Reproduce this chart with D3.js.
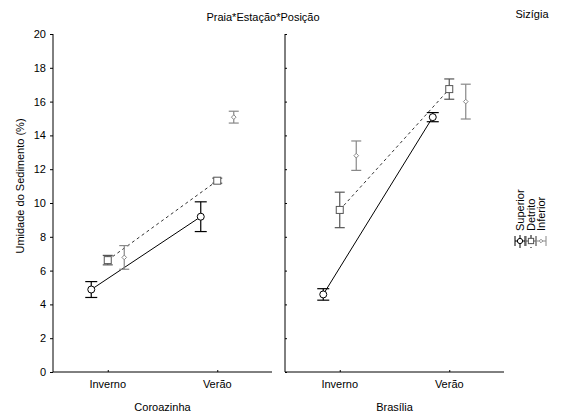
<!DOCTYPE html>
<html>
<head>
<meta charset="utf-8">
<script src="https://cdn.jsdelivr.net/npm/d3@7"></script>
<style>
  body { margin: 0; background: #fff; }
  text { font-family: "Liberation Sans", Arial, sans-serif; fill: #000; }
</style>
</head>
<body>
<div class="viz"></div>
<script>
// data
const beaches = ['Coroazinha', 'Brasília'];
const seasons = ['Inverno', 'Verão'];
const positions = ['Superior', 'Detrito', 'Inferior'];
const yTicks = [0, 2, 4, 6, 8, 10, 12, 14, 16, 18, 20];

// mean per beach, per position: [Inverno, Verão]
const superiorMean = [[4.88, 9.19], [4.59, 15.08]];
const superiorErr = [[0.47, 0.88], [0.34, 0.27]];
const detritoMean = [[6.62, 11.32], [9.59, 16.74]];
const detritoErr = [[0.28, 0.15], [1.05, 0.6]];
const inferiorMean = [[6.78, 15.08], [12.8, 16.0]];
const inferiorErr = [[0.7, 0.35], [0.87, 1.03]];

const series = [
  { name: positions[0], mean: superiorMean, err: superiorErr, color: '#000', off: -16.5, shape: 'circle', line: 'solid', cap: 12 },
  { name: positions[1], mean: detritoMean, err: detritoErr, color: '#555', off: 0, shape: 'square', line: 'dash', cap: 10 },
  { name: positions[2], mean: inferiorMean, err: inferiorErr, color: '#888', off: 16.5, shape: 'diamond', line: 'none', cap: 10 }
];

const width = 565, height = 418;
const svg = d3.select('.viz').append('svg')
  .attr('width', width).attr('height', height);

const y = d3.scaleLinear().domain([0, 20]).range([372, 34]);
const panelX = [53, 285], panelW = 219;

function marker(g, shape, cx, cy, color, k) {
  k = k || 1;
  if (shape === 'circle') {
    g.append('circle').attr('cx', cx).attr('cy', cy).attr('r', 3.5 * k)
      .attr('fill', '#fff').attr('stroke', color);
  } else if (shape === 'square') {
    g.append('rect').attr('x', cx - 3.5 * k).attr('y', cy - 3.5 * k)
      .attr('width', 7 * k).attr('height', 7 * k)
      .attr('fill', '#fff').attr('stroke', color);
  } else {
    g.append('path').attr('d', d3.symbol(d3.symbolDiamond2, 14 * k * k)())
      .attr('transform', 'translate(' + cx + ',' + cy + ')')
      .attr('fill', '#fff').attr('stroke', color);
  }
}

beaches.forEach((beach, b) => {
  const x = d3.scalePoint().domain(seasons).range([panelX[b], panelX[b] + panelW]).padding(0.5);
  const g = svg.append('g');

  // axes
  const yAxis = b === 0
    ? d3.axisLeft(y).tickValues(yTicks).tickSize(3).tickPadding(4)
    : d3.axisRight(y).tickValues(yTicks).tickSize(2).tickFormat('');
  const ya = g.append('g').attr('transform', 'translate(' + panelX[b] + ',0)').call(yAxis);
  ya.select('.domain').attr('d', 'M0,' + y(20) + 'V' + y(0));
  ya.selectAll('text').style('font-size', '11px').attr('font-family', 'Liberation Sans, Arial');

  const xa = g.append('g').attr('transform', 'translate(0,' + y(0) + ')')
    .call(d3.axisTop(x).tickSize(2).tickFormat(''));
  xa.select('.domain').attr('d', 'M' + panelX[b] + ',0H' + (panelX[b] + panelW));
  g.selectAll('.domain').attr('stroke', '#000');
  g.selectAll('.tick line').attr('stroke', '#000');

  seasons.forEach(s => {
    g.append('text').attr('x', x(s)).attr('y', 388).attr('text-anchor', 'middle')
      .style('font-size', '11px').text(s);
  });
  g.append('text').attr('x', panelX[b] + panelW / 2).attr('y', 411).attr('text-anchor', 'middle')
    .style('font-size', '11px').text(beach);

  // lines
  series.forEach(sr => {
    if (sr.line === 'none') return;
    const line = d3.line().x((d, i) => x(seasons[i]) + sr.off).y(d => y(d));
    g.append('path').attr('d', line(sr.mean[b])).attr('fill', 'none')
      .attr('stroke', sr.line === 'dash' ? '#333' : '#000')
      .attr('stroke-dasharray', sr.line === 'dash' ? '3,3' : null);
  });

  // error bars and markers
  series.forEach(sr => {
    seasons.forEach((s, i) => {
      const cx = x(s) + sr.off;
      const m = sr.mean[b][i], e = sr.err[b][i];
      const eg = g.append('g').attr('stroke', sr.color).attr('stroke-width', 1.2);
      eg.append('line').attr('x1', cx).attr('x2', cx).attr('y1', y(m + e)).attr('y2', y(m - e));
      [m + e, m - e].forEach(v => {
        eg.append('line').attr('x1', cx - sr.cap / 2).attr('x2', cx + sr.cap / 2)
          .attr('y1', y(v)).attr('y2', y(v));
      });
      marker(g, sr.shape, cx, y(m), sr.color);
    });
  });
});

// titles
svg.append('text').attr('x', 263).attr('y', 21).attr('text-anchor', 'middle')
  .style('font-size', '11px').text('Praia*Estação*Posição');
svg.append('text').attr('x', 532).attr('y', 18).attr('text-anchor', 'middle')
  .style('font-size', '11px').text('Sizígia');
svg.append('text').attr('transform', 'translate(24,186) rotate(-90)').attr('text-anchor', 'middle')
  .style('font-size', '11px').text('Umidade do Sedimento (%)');

// legend, rotated like the original
const legX = [520, 531, 541];
series.forEach((sr, i) => {
  const lx = legX[i], ly = 241;
  svg.append('text').attr('transform', 'translate(' + (lx + 4) + ',231) rotate(-90)')
    .style('font-size', '11px').text(sr.name);
  const lg = svg.append('g').attr('stroke', sr.color);
  lg.append('line').attr('x1', lx - 5).attr('x2', lx + 5).attr('y1', ly).attr('y2', ly);
  lg.append('line').attr('x1', lx - 5).attr('x2', lx - 5).attr('y1', ly - 5).attr('y2', ly + 5);
  lg.append('line').attr('x1', lx + 5).attr('x2', lx + 5).attr('y1', ly - 5).attr('y2', ly + 5);
  if (sr.line !== 'none') {
    svg.append('line').attr('x1', lx).attr('x2', lx).attr('y1', ly - 6).attr('y2', ly + 7)
      .attr('stroke', '#000').attr('stroke-dasharray', sr.line === 'dash' ? '3,3' : null);
  }
  marker(svg, sr.shape, lx, ly, sr.color, 0.75);
});
</script>
</body>
</html>
